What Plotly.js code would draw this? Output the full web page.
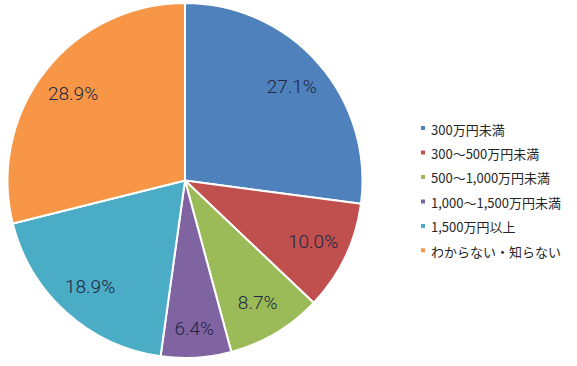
<!DOCTYPE html>
<html><head><meta charset="utf-8">
<script src="https://cdn.plot.ly/plotly-3.0.1.min.js"></script>
<style>body{margin:0;background:#fff}#c{width:577px;height:366px}</style>
</head><body><div id="c"></div>
<script>
const categories = ["300万円未満","300～500万円未満","500～1,000万円未満","1,000～1,500万円未満","1,500万円以上","わからない・知らない"];
const values = [27.1, 10.0, 8.7, 6.4, 18.9, 28.9];
const colors = ["#4F81BD","#C0504D","#9BBB59","#8064A2","#4BACC6","#F79646"];

const dom = {x: [7/577, 363/577], y: [8/366, 363/366]};
const legendLabels = categories.map(c => '<span style="font-size:13px">' + c + '</span>');

Plotly.newPlot("c", [{
  type: "pie",
  labels: legendLabels,
  values: values,
  sort: false,
  direction: "clockwise",
  rotation: 0,
  marker: {colors: colors, line: {color: "#ffffff", width: 2}},
  textinfo: "none",
  domain: dom,
  hoverinfo: "skip"
}, {
  type: "pie",
  labels: categories,
  values: values,
  sort: false,
  direction: "clockwise",
  rotation: 0,
  hole: 0.6,
  showlegend: false,
  marker: {colors: categories.map(() => "rgba(0,0,0,0)"), line: {width: 0}},
  texttemplate: "%{value:.1f}%",
  textposition: "inside",
  insidetextorientation: "horizontal",
  textfont: {family: "Roboto, Liberation Sans, sans-serif", size: 19, weight: 300, color: "#1e2642"},
  domain: dom,
  hoverinfo: "skip"
}], {
  width: 577, height: 366,
  margin: {l: 0, r: 0, t: 0, b: 0},
  paper_bgcolor: "#ffffff",
  showlegend: true,
  legend: {x: 391/577, y: 0.697, yanchor: "top", xanchor: "left",
    font: {family: "Noto Sans CJK JP, sans-serif", size: 16.5, color: "#262626"},
    itemwidth: 30}
}, {displayModeBar: false, staticPlot: true}).then(function(){
  document.querySelectorAll('path.legendpie').forEach(function(p){
    p.setAttribute('d', 'M15,3V-3H9V3Z');
  });
});
</script></body></html>
